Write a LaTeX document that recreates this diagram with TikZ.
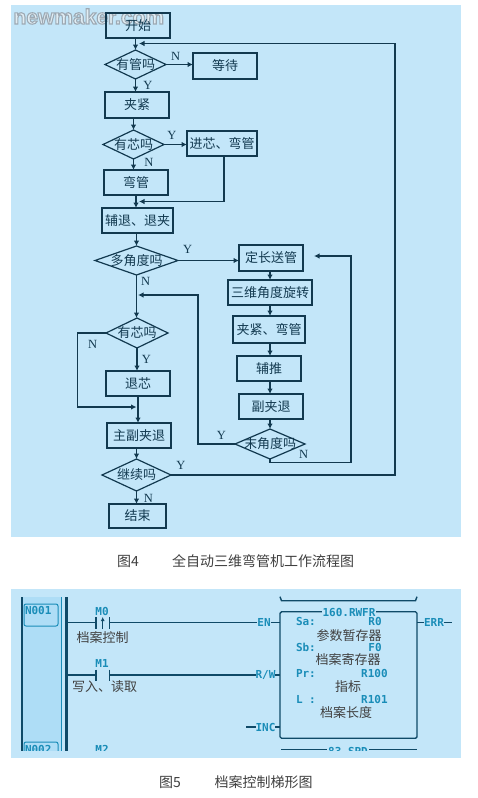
\documentclass[tikz,border=0pt]{standalone}
\usepackage{fontspec}
\usetikzlibrary{shapes.geometric,arrows.meta}
\setmainfont{Liberation Sans}
\newfontfamily\cjkfont{Noto Sans CJK SC}
\newfontfamily\latinserif{Liberation Serif}
\newfontfamily\plcfont{DejaVu Sans Mono}
\definecolor{panel}{HTML}{C3E6F9}
\definecolor{band}{HTML}{AEDDF6}
\definecolor{ink}{HTML}{12394F}
\definecolor{plc}{HTML}{1A8DB8}
\definecolor{rail}{HTML}{0F4A68}
\definecolor{wmfill}{HTML}{E6EFF4}
\newcommand{\pbox}[6]{\node[procbox,minimum width=#4-#2,minimum height=#5-#3] (#1) at ({(#2+#4)/2},{(#3+#5)/2}) {#6};}
\newcommand{\dbox}[6]{\node[decide,minimum width=#4-#2,minimum height=#5-#3,label={[flowtext]center:#6}] (#1) at ({(#2+#4)/2},{(#3+#5)/2}) {};}
\begin{document}
\begin{tikzpicture}[x=1pt,y=-1pt,
  every node/.style={inner sep=0pt,outer sep=0pt},
  every label/.style={inner sep=0pt,outer sep=0pt},
  flowtext/.style={font=\cjkfont\fontsize{13}{13}\selectfont,text=ink},
  procbox/.style={draw=ink,line width=1.2pt,flowtext,align=center},
  decide/.style={shape=diamond,draw=ink,line width=1.2pt},
  link/.style={draw=ink,line width=1.2pt,-{Latex[length=5.5pt,width=5.5pt]}},
  yn/.style={font=\latinserif\fontsize{12.5}{12.5}\selectfont,text=ink},
  caption/.style={font=\cjkfont\fontsize{14}{14}\selectfont,text=black!75},
  plctext/.style={font=\plcfont\bfseries\fontsize{11}{11}\selectfont,text=plc},
  plclabel/.style={font=\cjkfont\fontsize{13}{13}\selectfont,text=black!75},
  rung/.style={draw=rail,line width=1.4pt}]
\useasboundingbox (0,0) rectangle (477,798);
\fill[white] (0,0) rectangle (477,798);
\fill[panel] (11,5) rectangle (461,536.5);
\fill[panel] (11,589) rectangle (461,758);

% watermark, under the flowchart
\node[anchor=west,text=wmfill,opacity=.85,font=\bfseries\fontsize{21}{21}\selectfont] (wm) at (13.5,16.5)
  {\special{pdf:code 2 Tr 1.1 w 0.58 0.62 0.66 RG}newmaker.com\special{pdf:code 0 Tr}};

% ---------- flowchart ----------
\pbox{start}{106}{13}{170}{38}{开始}
\dbox{dtube}{105}{50}{166}{79}{有管吗}
\pbox{wait}{193}{53}{257}{79}{等待}
\pbox{clamp}{105}{92}{169}{118}{夹紧}
\dbox{dcore}{103}{130}{164}{159}{有芯吗}
\pbox{corein}{187}{131}{257}{156}{进芯、弯管}
\pbox{bend}{104}{170}{168}{195}{弯管}
\pbox{retract}{102}{208}{173}{233}{辅退、退夹}
\dbox{dangle}{95}{246}{178}{275}{多角度吗}
\pbox{feed}{239}{245}{303}{271}{定长送管}
\pbox{rotate}{228}{280}{312}{305}{三维角度旋转}
\pbox{clampb}{233}{316}{305}{343}{夹紧、弯管}
\pbox{push}{237}{356}{301}{381}{辅推}
\pbox{subret}{239}{394}{303}{419}{副夹退}
\dbox{dlast}{235}{429}{305}{459}{末角度吗}
\dbox{dcoreb}{106}{318}{168}{348}{有芯吗}
\pbox{coreout}{106}{371}{170}{396}{退芯}
\pbox{mainret}{107}{423}{171}{448}{主副夹退}
\dbox{dmore}{102}{459}{171}{491}{继续吗}
\pbox{finish}{109}{504}{166}{528}{结束}

\coordinate (top) at (139,43.5);
\coordinate (loopr) at (395,43.5);
\coordinate (corner) at (224,201.5);
\coordinate (joinb) at (139,201.5);
\coordinate (joinc) at (138,295);
\coordinate (joind) at (136.5,407);
\coordinate (feedin) at (314,256);
\coordinate (nl) at (351,462.5);
\coordinate (yl) at (198,295);
\coordinate (cl) at (77.5,407);

\draw[link] (dtube.north |- start.south) -- (dtube.north);
\draw[link] (dtube.east) -- (wait.west |- dtube.east);
\draw[link] (dtube.south) -- (dtube.south |- clamp.north);
\draw[link] (dcore.north |- clamp.south) -- (dcore.north);
\draw[link] (dcore.east) -- (corein.west |- dcore.east);
\draw[link] (dcore.south) -- (dcore.south |- bend.north);
\draw[link] (corner |- corein.south) -- (corner) -- (joinb);
\draw[link] (bend.south) -- (retract.north -| bend.south);
\draw[link] (dangle.north |- retract.south) -- (dangle.north);
\draw[link] (dangle.east) -- (feed.west |- dangle.east);
\draw[link] (dangle.south) -- (dangle.south |- dcoreb.north);
\draw[link] (feed.south -| rotate.north) -- (rotate.north);
\draw[link] (rotate.south) -- (rotate.south |- clampb.north);
\draw[link] (rotate.south |- clampb.south) -- (rotate.south |- push.north);
\draw[link] (rotate.south |- push.south) -- (rotate.south |- subret.north);
\draw[link] (dlast.north |- subret.south) -- (dlast.north);
\draw[link] (dlast.west) -| (yl) -- (joinc);
\draw[link] (dlast.south) |- (nl) |- (feedin);
\draw[link] (dcoreb.west) -| (cl) -- (joind);
\draw[link] (dcoreb.south) -- (dcoreb.south |- coreout.north);
\draw[link] (coreout.south) -- (mainret.north -| coreout.south);
\draw[link] (mainret.south -| dmore.north) -- (dmore.north);
\draw[link] (dmore.south) -- (dmore.south |- finish.north);
\draw[link] (dmore.east) -| (loopr) -- (top);

\node[yn] (l1) at (175.7,56) {N};
\node[yn] (l2) at (148,85) {Y};
\node[yn] (l3) at (172,135.7) {Y};
\node[yn] (l4) at (149,162.7) {N};
\node[yn] (l5) at (187.7,249) {Y};
\node[yn] (l6) at (145.7,281.7) {N};
\node[yn] (l7) at (92.7,344) {N};
\node[yn] (l8) at (146.3,359.3) {Y};
\node[yn] (l9) at (221.3,435.7) {Y};
\node[yn] (l10) at (303.7,454.3) {N};
\node[yn] (l11) at (181,465.7) {Y};
\node[yn] (l12) at (148.3,498) {N};

\node[caption,anchor=west] (cap4a) at (117,561.5) {图4};
\node[caption,anchor=west] (cap4b) at (172,561.5) {全自动三维弯管机工作流程图};
\node[caption,anchor=west] (cap5a) at (159,782.5) {图5};
\node[caption,anchor=west] (cap5b) at (214.5,782.5) {档案控制梯形图};

% ---------- ladder diagram ----------
\begin{scope}
\clip (11,589) rectangle (461,750.5);
\fill[band] (22,597) rectangle (61,751);
\draw[rail,line width=1.3pt] (22,597) -- (22,751);
\draw[plc,line width=1pt] (61,597) -- (61,751);
\draw[plc,line width=1pt,rounded corners=2pt] (24,604) rectangle (58,626);
\draw[plc,line width=1pt,rounded corners=2pt] (24,742) rectangle (58,760);
\node[plctext,anchor=west] (n1) at (25,610) {N001};
\node[plctext,anchor=west] (n2) at (25,749) {N002};
\draw[rail,line width=2.2pt] (66.5,597) -- (66.5,751);
\node[plctext] (m2) at (102,749) {M2};

% function block
\node[draw=rail,line width=1.4pt,rounded corners=1.5pt,minimum width=137pt,minimum height=126.5pt] (fb) at (348.5,675) {};
\node[plctext,fill=panel,inner xsep=1pt] (title) at (349,612) {160.RWFR};
\draw[rung] (280,596.7) -- (281.5,600.7) -- (415.5,600.7) -- (417,596.7);
\draw[rung] (281,749.5) -- (417,749.5);
\node[plctext,fill=panel,inner xsep=1pt] (spd) at (348,751.5) {83.SPD};

\node[plctext,anchor=west] (sa) at (296,621.7) {Sa:};
\node[plctext,anchor=east] (r0) at (381.7,621.7) {R0};
\node[plctext,anchor=west] (sb) at (296,647.3) {Sb:};
\node[plctext,anchor=east] (f0) at (381.7,647.3) {F0};
\node[plctext,anchor=west] (pr) at (296,673.3) {Pr:};
\node[plctext,anchor=east] (r100) at (387.7,673.3) {R100};
\node[plctext,anchor=west] (ll) at (296,699.7) {L :};
\node[plctext,anchor=east] (r101) at (387.7,699.7) {R101};
\node[plclabel] (t1) at (349,635.5) {参数暂存器};
\node[plclabel] (t2) at (348,659.5) {档案寄存器};
\node[plclabel] (t3) at (348,687) {指标};
\node[plclabel] (t4) at (346,713) {档案长度};

% pins
\node[plctext] (en) at (264,622.7) {EN};
\node[plctext] (rw) at (265.5,675) {R/W};
\node[plctext] (inc) at (265.5,727) {INC};
\node[plctext] (err) at (434,622.7) {ERR};
\coordinate (incl) at (246,727);
\coordinate (errr) at (451.5,622.7);
\draw[rung] (en.east) -- (fb.west |- en.east);
\draw[rung] (rw.east) -- (fb.west |- rw.east);
\draw[rung] (inc.east) -- (fb.west |- inc.east);
\draw[rung] (incl) -- (inc.west);
\draw[rung] (fb.east |- err.west) -- (err.west);
\draw[rung] (err.east) -- (errr);

% contacts
\coordinate (railA) at (66.5,622.7);
\coordinate (railB) at (66.5,675);
\coordinate (cAa) at (96,622.7);
\coordinate (cAb) at (109.5,622.7);
\coordinate (cBa) at (96,675);
\coordinate (cBb) at (109.5,675);
\draw[rung] (railA) -- (cAa);
\draw[rung] (cAb) -- (en.west);
\draw[rung] (railB) -- (cBa);
\draw[rung] (cBb) -- (rw.west);
\draw[rail,line width=1.8pt] (96,617) -- (96,629) (109.5,617) -- (109.5,629);
\draw[rail,line width=1.8pt] (96,669.5) -- (96,681) (109.5,669.5) -- (109.5,681);
\draw[rail,line width=1.3pt,-{Latex[length=4pt,width=4pt]}] (102.7,629) -- (102.7,617);
\node[plctext] (m0) at (102,611) {M0};
\node[plctext] (m1) at (102,663) {M1};
\node[plclabel] (lab0) at (102.5,638) {档案控制};
\node[plclabel] (lab1) at (104.5,687) {写入、读取};
\end{scope}
\end{tikzpicture}
\end{document}
